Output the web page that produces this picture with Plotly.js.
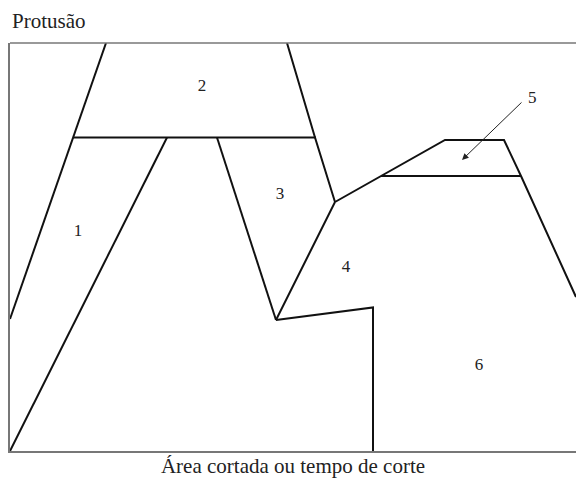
<!DOCTYPE html>
<html><head><meta charset="utf-8">
<script src="https://cdn.plot.ly/plotly-3.0.1.min.js"></script>
<style>html,body{margin:0;padding:0;background:#fff}#c{width:576px;height:484px}</style>
</head><body><div id="c"></div>
<script>
// Boundary lines between regions (x: cut area/time, y: protrusion), arbitrary units
const line1X = [0, 96],            line1Y = [132, 408];
const line2X = [63, 306],          line2Y = [313.5, 313.5];
const line3X = [277, 305, 325],    line3Y = [408, 313.5, 249];
const line4X = [0, 157],           line4Y = [0, 313.5];
const line5X = [207, 266],         line5Y = [313.5, 131];
const line6X = [266, 325],         line6Y = [131, 249];
const line7X = [266, 363, 363],    line7Y = [131, 143.5, 0];
const line8X = [325, 371, 435, 494, 511, 566], line8Y = [249, 275, 311, 311, 275, 154];
const line9X = [371, 511],         line9Y = [275, 275];

const regionLabels = ['1', '2', '3', '4', '6'];
const regionX = [68, 192, 270, 336, 469];
const regionY = [219, 364, 256, 183, 85];

const label5 = '5';
const label5X = 522, label5Y = 354;
const arrowTailX = 513, arrowTailY = 350;
const arrowHeadX = 452, arrowHeadY = 291;

const xTitle = 'Área cortada ou tempo de corte';
const yTitle = 'Protusão';

const serif = 'Liberation Serif';
const lines = [[line1X,line1Y],[line2X,line2Y],[line3X,line3Y],[line4X,line4Y],[line5X,line5Y],
               [line6X,line6Y],[line7X,line7Y],[line8X,line8Y],[line9X,line9Y]];
const traces = lines.map(([x,y]) => ({x:x, y:y, type:'scatter', mode:'lines',
  line:{color:'#111', width:2}, hoverinfo:'skip', showlegend:false}));
traces.push({x:regionX, y:regionY, text:regionLabels, type:'scatter', mode:'text',
  textfont:{family:serif, size:17, color:'#222'},
  showlegend:false, hoverinfo:'skip'});

const layout = {
  width:576, height:484,
  font:{family:serif, size:17, color:'#222'},
  margin:{l:10, r:0, t:43, b:33},
  paper_bgcolor:'#fff', plot_bgcolor:'#fff',
  showlegend:false,
  xaxis:{range:[0,566], showgrid:false, zeroline:false, showticklabels:false, ticks:'',
    showline:true, linecolor:'#777', linewidth:1.5, fixedrange:true, automargin:false,
    title:{text:xTitle, font:{family:serif, size:21, color:'#222'}, standoff:7}},
  yaxis:{range:[0,408], showgrid:false, zeroline:false, showticklabels:false, ticks:'',
    showline:true, linecolor:'#777', linewidth:1.5, fixedrange:true},
  shapes:[{type:'line', xref:'paper', yref:'paper', x0:0, x1:1, y0:1, y1:1,
    line:{color:'#777', width:1.5}}],
  annotations:[
    {x:arrowHeadX, y:arrowHeadY, ax:arrowTailX, ay:arrowTailY, axref:'x', ayref:'y',
     xref:'x', yref:'y', showarrow:true, arrowhead:2, arrowsize:1.3, arrowwidth:1,
     arrowcolor:'#222', text:''},
    {x:label5X, y:label5Y, xref:'x', yref:'y', text:label5, showarrow:false,
     xanchor:'center', yanchor:'middle',
     font:{family:serif, size:17, color:'#222'}},
    {x:0, y:1, xref:'paper', yref:'paper', yshift:22, xanchor:'left', yanchor:'middle',
     text:yTitle, showarrow:false, font:{family:serif, size:21, color:'#222'}}
  ]
};
Plotly.newPlot('c', traces, layout, {displayModeBar:false});
</script></body></html>
